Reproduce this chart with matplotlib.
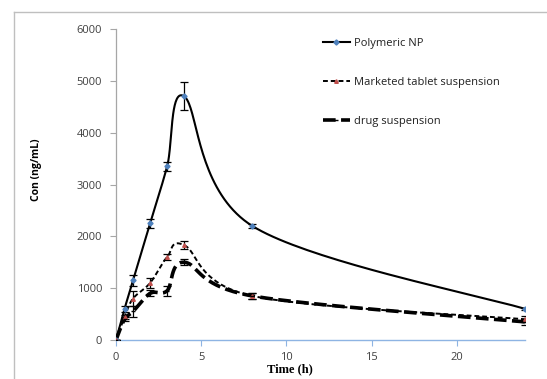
import numpy as np
import matplotlib
matplotlib.use("Agg")
import matplotlib.pyplot as plt
from matplotlib.lines import Line2D

time_h = [0, 0.5, 1, 2, 3, 4, 8, 24]
np_conc = [0, 600, 1150, 2250, 3350, 4700, 2200, 600]
np_err = [0, 60, 100, 80, 80, 270, 30, 20]
mkt_conc = [0, 450, 800, 1100, 1600, 1830, 850, 400]
mkt_err = [0, 40, 150, 90, 60, 80, 50, 60]
drug_conc = [0, 400, 550, 900, 950, 1500, 850, 350]
drug_err = [0, 40, 100, 60, 100, 60, 60, 60]
x_ticks = [0, 5, 10, 15, 20]
y_ticks = [0, 1000, 2000, 3000, 4000, 5000, 6000]
labels = ["Polymeric NP", "Marketed tablet suspension", "drug suspension"]

W, H = 547, 379
fig = plt.figure(figsize=(W / 100, H / 100), dpi=100)
L, R, T, B = 116, 525, 29, 340
ax = fig.add_axes([L / W, 1 - B / H, (R - L) / W, (B - T) / H])
XMAX, YMAX = 24, 6000
ax.set_xlim(0, XMAX)
ax.set_ylim(0, YMAX)


def smooth(xs, ys, n=40):
    # Excel-style smoothed line (cardinal Bezier) computed in pixel space
    sx = (R - L) / XMAX
    sy = (B - T) / YMAX
    P = np.array([[x * sx, y * sy] for x, y in zip(xs, ys)])
    out = []
    for i in range(len(P) - 1):
        p0 = P[i - 1] if i > 0 else P[i]
        p1, p2 = P[i], P[i + 1]
        p3 = P[i + 2] if i + 2 < len(P) else P[i + 1]
        c1 = p1 + (p2 - p0) / 6
        c2 = p2 - (p3 - p1) / 6
        t = np.linspace(0, 1, n)[:, None]
        seg = ((1 - t) ** 3) * p1 + 3 * ((1 - t) ** 2) * t * c1 + 3 * (1 - t) * t ** 2 * c2 + t ** 3 * p2
        out.append(seg if i == 0 else seg[1:])
    out = np.vstack(out)
    return out[:, 0] / sx, out[:, 1] / sy


series = [
    (np_conc, np_err, dict(color="black", lw=1.5, ls="-"), "#4f81bd", "D", 2.6),
    (mkt_conc, mkt_err, dict(color="black", lw=1.4, ls=(0, (2.5, 1.5))), "#c0504d", "^", 2.6),
    (drug_conc, drug_err, dict(color="black", lw=2.6, ls=(0, (3.5, 1.5))), "black", "_", 3),
]

handles = []
for (ys, es, st, mc, mk, ms), lab in zip(series, labels):
    sx_, sy_ = smooth(time_h, ys)
    ax.plot(sx_, sy_, zorder=3, **st)
    ax.errorbar(time_h, ys, yerr=es, fmt="none", ecolor="black", elinewidth=0.9,
                capsize=3, capthick=0.9, zorder=4)
    ax.plot(time_h, ys, ls="none", marker=mk, ms=ms, color=mc, zorder=5)
    handles.append(Line2D([0], [0], marker=mk, ms=ms, mfc=mc, mec=mc, **st))

for s in ["top", "right"]:
    ax.spines[s].set_visible(False)
ax.spines["left"].set_color("#a6a6a6")
ax.spines["left"].set_linewidth(0.9)
ax.spines["bottom"].set_color("#8eb4e3")
ax.spines["bottom"].set_linewidth(1.0)
ax.set_xticks(x_ticks)
ax.set_yticks(y_ticks)
ax.tick_params(axis="y", direction="out", length=4, color="#a6a6a6", labelsize=8,
               labelcolor="#404040", pad=6)
ax.tick_params(axis="x", direction="out", length=4, color="#8eb4e3", labelsize=8,
               labelcolor="#404040", pad=5)
for t in ax.get_xticklabels() + ax.get_yticklabels():
    t.set_fontfamily("Open Sans")

fig.text(290 / W, 1 - 369 / H, "Time (h)", ha="center", va="center",
         fontfamily="Liberation Serif", fontweight="bold", fontsize=9)
fig.text(37 / W, 1 - 170 / H, "Con (ng/mL)", ha="center", va="center", rotation=90,
         fontfamily="Open Sans", fontweight="bold", fontsize=7.5)

leg = ax.legend(handles, labels, loc="upper left", bbox_to_anchor=((313 - L) / (R - L), 1 + (T - 28) / (B - T)),
                frameon=False, handlelength=2.4, labelspacing=2.5, handletextpad=0.4,
                prop={"family": "Open Sans", "size": 8})
for t in leg.get_texts():
    t.set_color("#202020")

# outer chart frame (partially visible)
fig.add_artist(Line2D([14 / W, 14 / W], [0, 1 - 12 / H], transform=fig.transFigure,
                      color="#bfbfbf", lw=1))
fig.add_artist(Line2D([14 / W, 1], [1 - 12 / H, 1 - 12 / H], transform=fig.transFigure,
                      color="#bfbfbf", lw=1))

fig.savefig("out.png", dpi=100)
